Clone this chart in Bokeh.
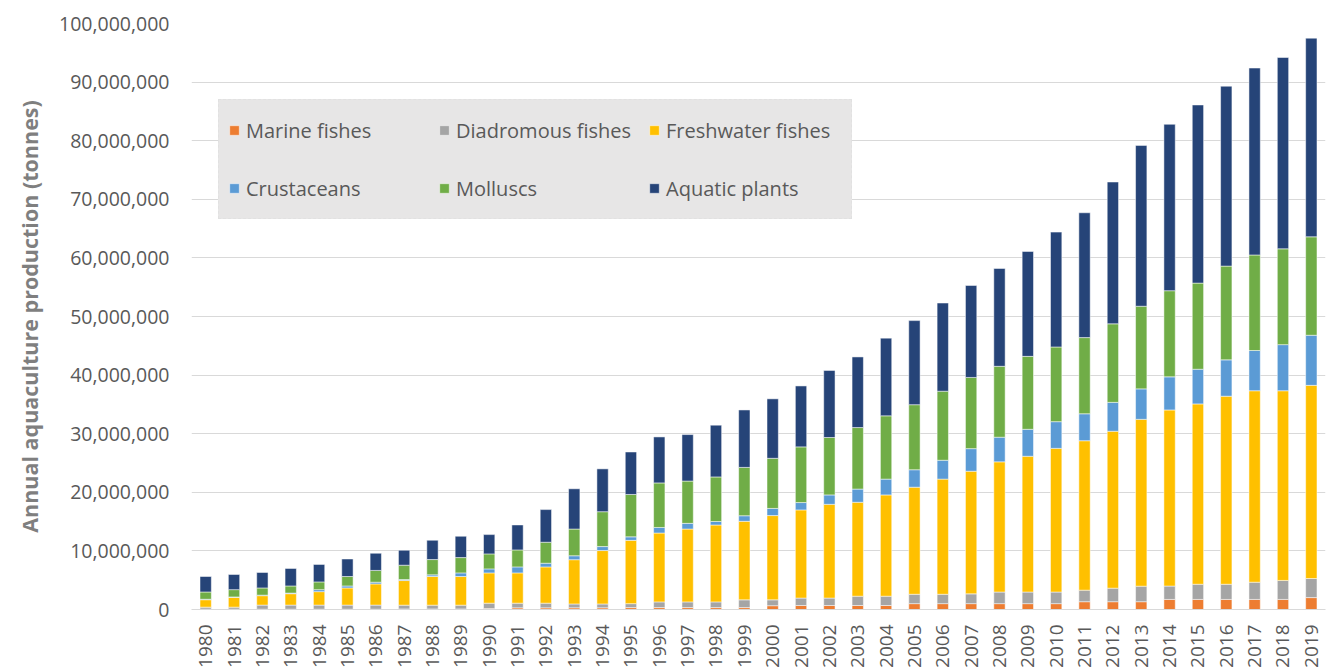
import math
from bokeh.plotting import figure
from bokeh.models import (ColumnDataSource, Range1d, FactorRange, NumeralTickFormatter,
                          FixedTicker, Legend, LegendItem)
from bokeh.embed import file_html
from bokeh.resources import INLINE

years = [str(y) for y in range(1980, 2020)]

# tonnes
marine_fishes = [50000, 50000, 50000, 50000, 50000, 50000, 50000, 100000, 100000, 100000,
                 150000, 280000, 280000, 290000, 290000, 320000, 320000, 320000, 320000, 320000,
                 650000, 680000, 680000, 680000, 680000, 1000000, 1000000, 1000000, 1000000, 1000000,
                 1000000, 1330000, 1330000, 1330000, 1720000, 1720000, 1720000, 1720000, 1720000, 2030000]
diadromous_fishes = [350000, 350000, 700000, 700000, 700000, 700000, 700000, 640000, 640000, 640000,
                     930000, 800000, 800000, 660000, 660000, 680000, 980000, 980000, 980000, 1330000,
                     1000000, 1270000, 1270000, 1590000, 1590000, 1600000, 1600000, 1670000, 1980000, 1980000,
                     1980000, 1970000, 2310000, 2650000, 2280000, 2590000, 2590000, 2940000, 3240000, 3260000]
freshwater_fishes = [1270000, 1670000, 1610000, 1950000, 2300000, 2930000, 3620000, 4200000, 4890000, 4890000,
                     5170000, 5170000, 6190000, 7550000, 9110000, 10800000, 11750000, 12430000, 13120000, 13400000,
                     14380000, 15050000, 16000000, 16030000, 17280000, 18270000, 19650000, 20930000, 22220000, 23170000,
                     24520000, 25500000, 26780000, 28470000, 30050000, 30770000, 32090000, 32670000, 32370000, 32960000]
crustaceans = [80000, 80000, 90000, 100000, 340000, 340000, 290000, 170000, 280000, 620000,
               680000, 1020000, 630000, 670000, 680000, 600000, 950000, 970000, 600000, 950000,
               1220000, 1250000, 1600000, 2250000, 2700000, 2980000, 3220000, 3850000, 4200000, 4600000,
               4550000, 4600000, 4930000, 5200000, 5650000, 5920000, 6200000, 6870000, 7870000, 8550000]
molluscs = [1240000, 1240000, 1230000, 1220000, 1320000, 1610000, 2010000, 2450000, 2610000, 2610000,
            2560000, 2900000, 3580000, 4560000, 5950000, 7230000, 7600000, 7220000, 7600000, 8250000,
            8550000, 9500000, 9800000, 10500000, 10800000, 11100000, 11780000, 12150000, 12100000, 12450000,
            12750000, 13000000, 13400000, 14100000, 14700000, 14700000, 16000000, 16300000, 16350000, 16800000]
aquatic_plants = [2640000, 2590000, 2640000, 2990000, 2990000, 2990000, 2930000, 2550000, 3300000, 3640000,
                  3290000, 4260000, 5570000, 6870000, 7310000, 7250000, 7850000, 7930000, 8830000, 9800000,
                  10150000, 10400000, 11450000, 12050000, 13250000, 14350000, 15050000, 15700000, 16700000, 17900000,
                  19600000, 21300000, 24200000, 27450000, 28400000, 30400000, 30700000, 31900000, 32650000, 33900000]

series_keys = ["marine", "diadromous", "freshwater", "crustaceans", "molluscs", "plants"]
series_labels = ["Marine fishes", "Diadromous fishes", "Freshwater fishes",
                 "Crustaceans", "Molluscs", "Aquatic plants"]
colors = ["#ED7D31", "#A5A5A5", "#FFC000", "#5B9BD5", "#70AD47", "#264478"]

source = ColumnDataSource(dict(
    year=years, marine=marine_fishes, diadromous=diadromous_fishes,
    freshwater=freshwater_fishes, crustaceans=crustaceans,
    molluscs=molluscs, plants=aquatic_plants))

FONT = "Open Sans"
GRAY = "#595959"

p = figure(width=1339, height=670, output_backend="svg", toolbar_location=None,
           x_range=FactorRange(*years, range_padding=0), y_range=Range1d(0, 100_000_000),
           min_border_left=191, min_border_right=14, min_border_top=23, min_border_bottom=61)
p.outline_line_color = None
p.background_fill_color = "white"

renderers = p.vbar_stack(series_keys, x="year", width=0.4, color=colors, source=source,
                         line_color="white", line_width=0.5)

p.yaxis.ticker = FixedTicker(ticks=[i * 10_000_000 for i in range(11)])
p.yaxis.formatter = NumeralTickFormatter(format="0,0")
p.yaxis.axis_line_color = None
p.yaxis.major_tick_line_color = None
p.yaxis.minor_tick_line_color = None
p.yaxis.major_label_standoff = 16
p.yaxis.major_label_text_font = FONT
p.yaxis.major_label_text_font_size = "19.5px"
p.yaxis.major_label_text_color = GRAY
p.yaxis.axis_label = "Annual aquaculture production (tonnes)"
p.yaxis.axis_label_text_font = FONT
p.yaxis.axis_label_text_font_size = "21.5px"
p.yaxis.axis_label_text_font_style = "bold"
p.yaxis.axis_label_text_color = "#7F7F7F"
p.yaxis.axis_label_standoff = 12

p.xaxis.axis_line_color = "#D9D9D9"
p.xaxis.major_tick_line_color = None
p.xaxis.minor_tick_line_color = None
p.xaxis.major_label_orientation = math.pi / 2
p.xaxis.major_label_standoff = 9
p.xaxis.major_label_text_font = FONT
p.xaxis.major_label_text_font_size = "19px"
p.xaxis.major_label_text_color = GRAY

p.xgrid.grid_line_color = None
p.ygrid.grid_line_color = "#D9D9D9"
p.ygrid.grid_line_width = 1

items = [LegendItem(label=lab, renderers=[r]) for lab, r in zip(series_labels, renderers)]
legend = Legend(items=items, orientation="horizontal", ncols=3,
                location=(27, 390),
                background_fill_color="#E7E6E6", background_fill_alpha=1.0,
                border_line_color="#DDDDDD", border_line_width=1, border_line_dash="1 1",
                label_text_font=FONT, label_text_font_size="20px", label_text_color=GRAY,
                glyph_width=12, glyph_height=12, label_standoff=6,
                label_width=176, label_height=42,
                padding=9, spacing=16, margin=0)
p.add_layout(legend, "center")

open("out.html", "w").write(file_html(p, INLINE))
